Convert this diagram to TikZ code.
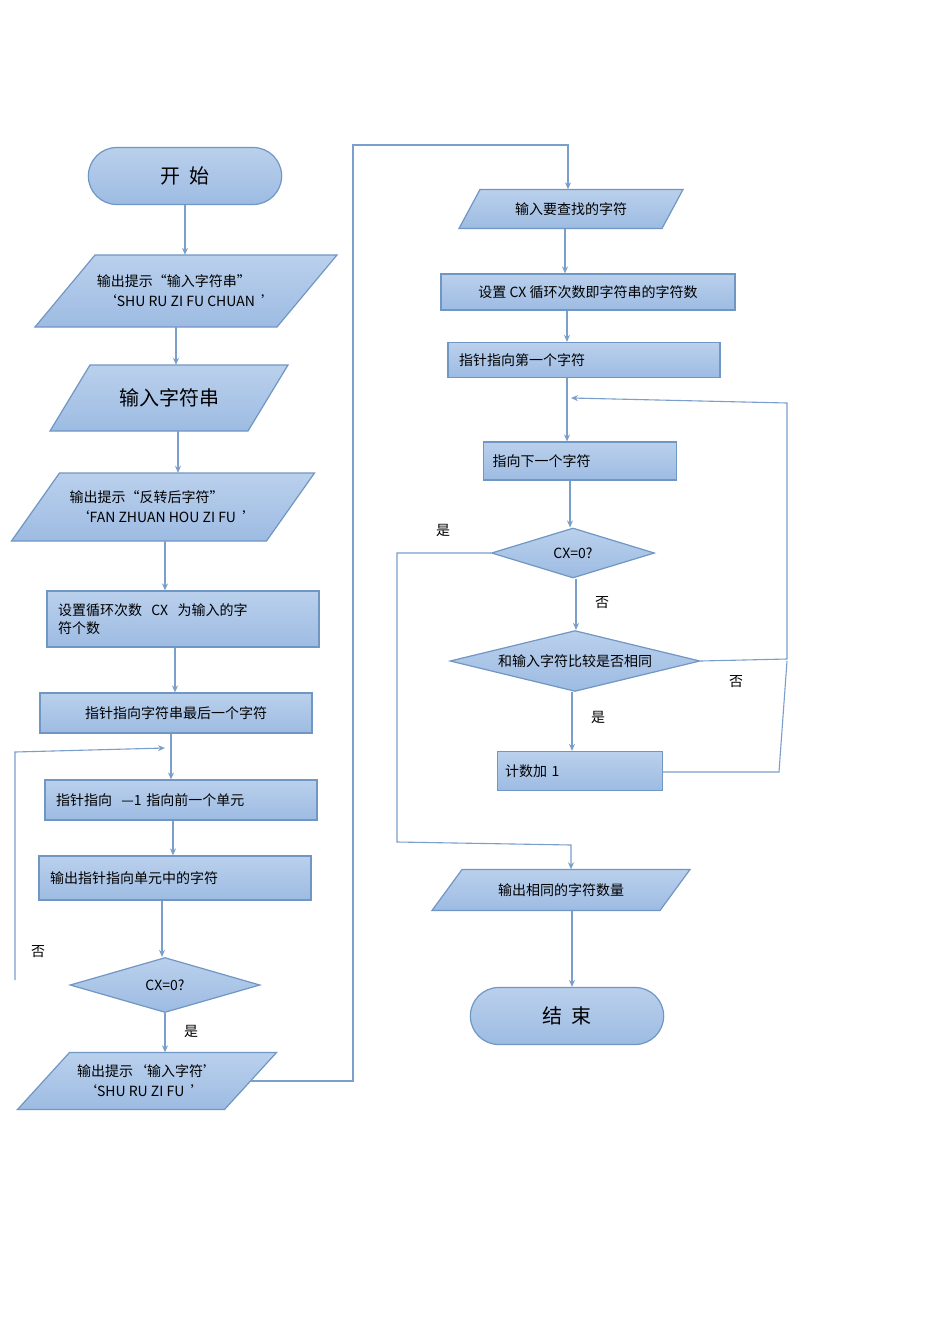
\documentclass[tikz,border=0pt]{standalone}
\usepackage{fontspec}
\setmainfont{Noto Sans CJK SC}
\usetikzlibrary{arrows.meta,shapes.geometric,shapes.misc}
\definecolor{fb}{HTML}{A9C5E8}
\definecolor{fb2}{HTML}{9DBBE2}
\definecolor{sb}{HTML}{7096C4}
\definecolor{lb}{HTML}{7A9FCB}
\tikzset{
 shp/.style={draw=sb,line width=1.2pt,top color=fb!80!white,bottom color=fb2},
 term/.style={shp,rounded rectangle,minimum width=200pt,minimum height=57pt,font=\fontsize{20}{22}\selectfont},
 dia/.style={shp,diamond,aspect=3.4,inner sep=1pt},
 con/.style={draw=lb,line width=1.1pt,-{Stealth[length=7pt,width=6pt]}},
 lin/.style={draw=lb,line width=1.1pt},
 lab/.style={font=\fontsize{14}{16}\selectfont},
 txt/.style={font=\fontsize{14}{18}\selectfont,align=left},
}
\newcommand{\para}[8]{% name cx cy w h slant text fontsize
 \path[shp] (#2-#4/2+#6/2,#3-#5/2) -- ++(-#6,#5) -- ++(#4,0) -- ++(#6,-#5) -- cycle;
 \node[draw=none,minimum width=#4pt-#6pt,minimum height=#5pt,inner sep=0,align=left,font=\fontsize{#8}{20}\selectfont] (#1) at (#2,#3) {#7};}
\begin{document}
\begin{tikzpicture}[x=1pt,y=-1pt]
\useasboundingbox (0,0) rectangle (950,1344);
\fill[white] (0,0) rectangle (950,1344);
% left column
\node[term] (start) at (185,176) {开\ \ 始};
\para{p1}{186}{291}{242}{72}{60}{输出提示“输入字符串”\\\hspace*{6pt}‘SHU RU ZI FU CHUAN\ \ ’}{14}
\para{p2}{169}{398}{198}{66}{40}{输入字符串}{20}
\para{p3}{163}{507}{255}{68}{48}{输出提示“反转后字符”\\\hspace*{6pt}‘FAN ZHUAN HOU ZI FU\ \ ’}{14}
\node[shp,minimum width=272pt,minimum height=56pt,txt,text width=250pt] (r1) at (183,619) {设置循环次数\ \ CX\ \ 为输入的字\\符个数};
\node[shp,minimum width=272pt,minimum height=40pt,txt] (r2) at (176,713) {指针指向字符串最后一个字符};
\node[shp,minimum width=272pt,minimum height=40pt,txt,text width=250pt] (r3) at (181,800) {指针指向\ \ —1 指向前一个单元};
\node[shp,minimum width=272pt,minimum height=44pt,txt,text width=250pt] (r4) at (175,878) {输出指针指向单元中的字符};
\node[dia,minimum width=190pt,minimum height=55pt,txt] (d1) at (165,985) {CX=0?};
\para{p4}{147}{1081}{207}{57}{52}{输出提示‘输入字符’\\\hspace*{6pt}‘SHU RU ZI FU\ \ ’}{14}
% right column
\para{p5}{571}{209}{203}{39}{21}{输入要查找的字符}{14}
\node[shp,minimum width=294pt,minimum height=36pt,txt] (r5) at (588,292) {设置 CX 循环次数即字符串的字符数};
\node[shp,minimum width=272pt,minimum height=35pt,txt,text width=250pt] (r6) at (584,360) {指针指向第一个字符};
\node[shp,minimum width=193pt,minimum height=38pt,txt,text width=175pt] (r7) at (580,461) {指向下一个字符};
\node[dia,minimum width=163pt,minimum height=50pt,txt] (d2) at (573,553) {CX=0?};
\node[dia,minimum width=250pt,minimum height=58pt,txt] (d3) at (575,661) {和输入字符比较是否相同};
\node[shp,minimum width=165pt,minimum height=39pt,txt,text width=150pt] (r8) at (580,771) {计数加 1};
\para{p6}{561}{890}{228}{41}{30}{输出相同的字符数量}{14}
\node[term] (end) at (567,1016) {结\ \ 束};
% connectors
\draw[con] (start.south -| 185,0) -- (p1.north -| 185,0);
\draw[con] (p1.south -| 176,0) -- (p2.north -| 176,0);
\draw[con] (p2.south -| 178,0) -- (p3.north -| 178,0);
\draw[con] (p3.south -| 165,0) -- (r1.north -| 165,0);
\draw[con] (r1.south -| 175,0) -- (r2.north -| 175,0);
\draw[con] (r2.south -| 171,0) -- (r3.north -| 171,0);
\draw[con] (r3.south -| 173,0) -- (r4.north -| 173,0);
\draw[con] (r4.south -| 162,0) -- (d1.north -| 162,0);
\draw[con] (d1.south -| 165,0) -- (p4.north -| 165,0);
\coordinate (lp) at (15,980);
\coordinate (lt) at (165,748);
\draw[con] (lp) -- (15,752) -- (lt);
\node[lab] (no1) at (38,952) {否};
\node[lab] (yes1) at (191,1031) {是};
\coordinate (p4r) at (250,1081);
\draw[con] (p4r) -- (353,1081) -- (353,145) -- (568,145) -- (p5.north -| 568,0);
\draw[con] (p5.south -| 565,0) -- (r5.north -| 565,0);
\draw[con] (r5.south -| 567,0) -- (r6.north -| 567,0);
\draw[con] (r6.south -| 567,0) -- (r7.north -| 567,0);
\draw[con] (r7.south -| 570,0) -- (d2.north -| 570,0);
\draw[con] (d2.south -| 576,0) -- (d3.north -| 576,0);
\draw[con] (d3.south -| 572,0) -- (r8.north -| 572,0);
\coordinate (rt) at (571,398);
\draw[con] (d3.east) -- (787,659) -- (787,403) -- (rt);
\draw[lin] (r8.east |- 0,772) -- (779,772) -- (787,661);
\draw[con] (d2.west) -- (397,553) -- (397,842) -- (571,845) -- (p6.north -| 571,0);
\draw[con] (p6.south -| 572,0) -- (end.north -| 572,0);
\node[lab] (yes2) at (443,530) {是};
\node[lab] (no2) at (602,603) {否};
\node[lab] (yes3) at (598,717) {是};
\node[lab] (no3) at (736,682) {否};
\end{tikzpicture}
\end{document}
